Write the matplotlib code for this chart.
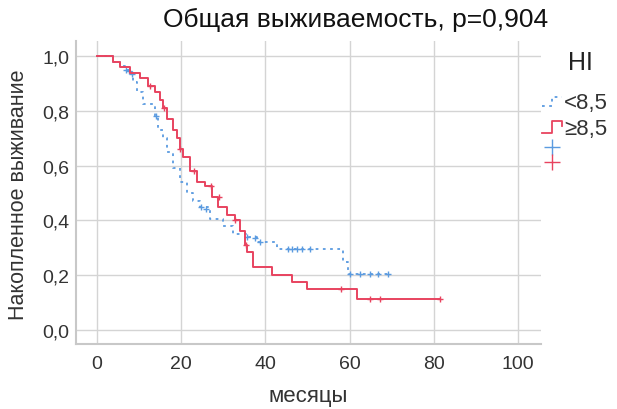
import matplotlib
matplotlib.use("Agg")
import matplotlib.pyplot as plt
from matplotlib.lines import Line2D

plt.rcParams['font.family'] = ['Liberation Sans', 'DejaVu Sans']

# HI < 8,5 (blue, dotted) - Kaplan-Meier steps
low_t = [0, 3.9, 5.4, 6.7, 8.3, 8.6, 9.5, 10.9, 13.8, 14.5, 15.7, 16.6, 18.1, 19.7, 21.4,
         22.8, 24.5, 26.8, 29.9, 32.3, 35.6, 38.0, 42.8, 58.4, 59.6, 69.1]
low_s = [1.0, 0.98, 0.965, 0.95, 0.93, 0.905, 0.87, 0.825, 0.78, 0.73, 0.70, 0.65, 0.59,
         0.54, 0.50, 0.47, 0.45, 0.405, 0.38, 0.35, 0.34, 0.32, 0.295, 0.25, 0.205, 0.205]
low_cens_t = [6.8, 7.5, 8.2, 13.9, 24.6, 25.8, 35.7, 37.5, 38.7, 45.3, 46.3, 47.5,
              48.7, 50.6, 60.1, 62.5, 64.8, 66.7, 69.1]
low_cens_s = [0.95, 0.945, 0.935, 0.78, 0.45, 0.44, 0.34, 0.335, 0.32, 0.295, 0.295,
              0.295, 0.295, 0.295, 0.205, 0.205, 0.205, 0.205, 0.205]

# HI >= 8,5 (red, solid)
high_t = [0, 3.8, 5.5, 7.8, 10.2, 12.1, 13.8, 15.0, 15.7, 16.6, 18.1, 19.0, 19.7,
          20.4, 22.1, 23.8, 25.7, 27.3, 28.7, 30.9, 32.8, 34.0, 35.2, 35.6, 37.1,
          41.6, 46.3, 49.9, 61.8, 81.5]
high_s = [1.0, 0.98, 0.96, 0.94, 0.92, 0.89, 0.87, 0.84, 0.81, 0.77, 0.73, 0.70, 0.66,
          0.63, 0.58, 0.54, 0.525, 0.485, 0.45, 0.42, 0.40, 0.36, 0.31, 0.285, 0.23,
          0.20, 0.175, 0.15, 0.113, 0.113]
high_cens_t = [12.5, 15.8, 19.8, 23.0, 27.0, 29.0, 32.9, 35.4, 58.0, 64.8, 67.2, 81.5]
high_cens_s = [0.89, 0.81, 0.66, 0.58, 0.525, 0.485, 0.40, 0.31, 0.15, 0.113, 0.113, 0.113]

blue = '#5b9be0'
red = '#e8435f'
gray_txt = '#333333'

fig = plt.figure(figsize=(6.17, 4.10), dpi=100)
ax = fig.add_axes([76 / 617, 65 / 410, (541 - 76) / 617, (345 - 42) / 410])

ax.step(low_t, low_s, where='post', color=blue, lw=1.3, linestyle=(0, (1.5, 2.5)))
ax.plot(low_cens_t, low_cens_s, '+', color=blue, ms=5, mew=1)
ax.step(high_t, high_s, where='post', color=red, lw=1.4)
ax.plot(high_cens_t, high_cens_s, '+', color=red, ms=5, mew=1)

ax.set_xlim(-5, 105.5)
ax.set_ylim(-0.051, 1.055)
ax.set_xticks([0, 20, 40, 60, 80, 100])
ax.set_yticks([0, 0.2, 0.4, 0.6, 0.8, 1.0])
ax.set_yticklabels(['0,0', '0,2', '0,4', '0,6', '0,8', '1,0'])
ax.grid(True, color='#d4d4d4', lw=1)
ax.set_axisbelow(True)
for s in ['top', 'right']:
    ax.spines[s].set_visible(False)
for s in ['left', 'bottom']:
    ax.spines[s].set_color('#c8c8c8')
    ax.spines[s].set_linewidth(1.5)
ax.tick_params(length=0, labelsize=14, colors=gray_txt)
ax.tick_params(axis='x', pad=8)
ax.tick_params(axis='y', pad=5)

fig.text(356 / 617, 1 - 20 / 410, 'Общая выживаемость, p=0,904', ha='center', va='center',
         fontsize=19, color='#111111')
fig.text(19 / 617, 1 - 195 / 410, 'Накопленное выживание', rotation=90, ha='center',
         va='center', fontsize=15.5, color=gray_txt)
fig.text(308 / 617, 1 - 397 / 410, 'месяцы', ha='center', va='center', fontsize=16,
         color=gray_txt)

# legend drawn by hand
def fx(px):
    return px / 617

def fy(py):
    return 1 - py / 410

fig.text(fx(580), fy(63), 'HI', ha='center', va='center', fontsize=18, color='#222222')
fig.text(fx(564), fy(103), '<8,5', ha='left', va='center', fontsize=16, color=gray_txt)
fig.text(fx(564), fy(130), '≥8,5', ha='left', va='center', fontsize=16, color=gray_txt)
fig.add_artist(Line2D([fx(542), fx(552), fx(552), fx(562)],
                      [fy(107), fy(107), fy(98), fy(98)],
                      color=blue, lw=1.3, linestyle=(0, (1.5, 2.5))))
fig.add_artist(Line2D([fx(542), fx(552), fx(552), fx(562), fx(562)],
                      [fy(134), fy(134), fy(122), fy(122), fy(127)],
                      color=red, lw=1.3))
fig.add_artist(Line2D([fx(552)], [fy(148)], marker='+', color=blue, ms=12, mew=1))
fig.add_artist(Line2D([fx(552)], [fy(163)], marker='+', color=red, ms=12, mew=1))

fig.savefig('out.png', dpi=100)
